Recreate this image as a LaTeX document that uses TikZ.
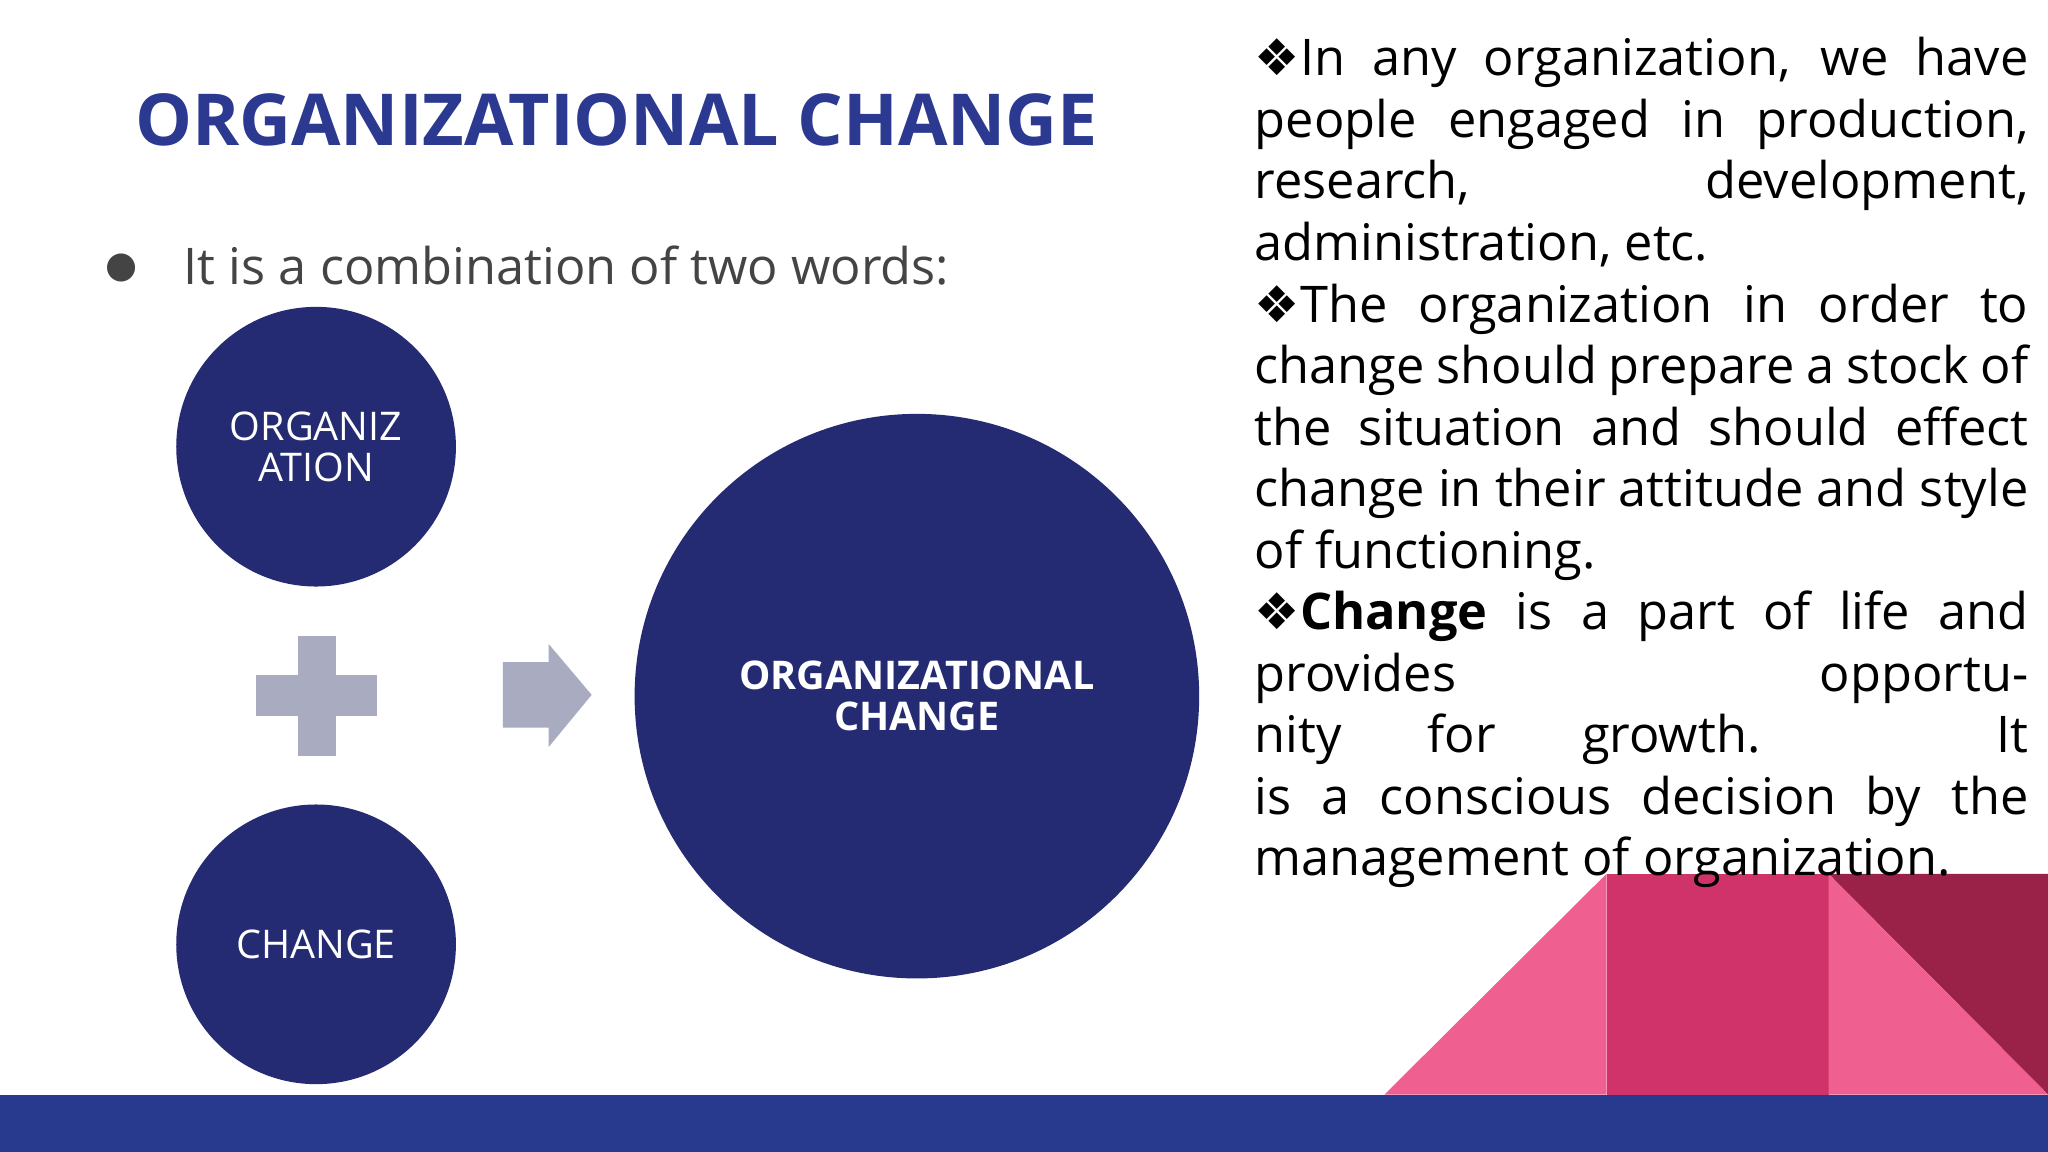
\documentclass[tikz,border=0pt]{standalone}
\usepackage{fontspec}
\setmainfont{Open Sans}
\newfontfamily\djv{DejaVu Sans}
\definecolor{titleblue}{HTML}{2B3990}
\definecolor{navy}{HTML}{242B72}
\definecolor{band}{HTML}{283A8E}
\definecolor{plusgray}{HTML}{A9ABC0}
\definecolor{lpink}{HTML}{EF5F8F}
\definecolor{mpink}{HTML}{D0336A}
\definecolor{dpink}{HTML}{9A2249}
\definecolor{txtgray}{HTML}{444444}
\begin{document}
\begin{tikzpicture}[x=0.01cm,y=-0.01cm,
  circ/.style={circle,fill=navy,inner sep=0pt,text=white,align=center,font=\fontsize{8.6}{9}\selectfont},
  gshape/.style={fill=plusgray,draw=none}]
\useasboundingbox (0,0) rectangle (1568,882);
\fill[white] (0,0) rectangle (1568,882);
% bottom decorations
\fill[band] (0,838) rectangle (1568,882);
\fill[lpink] (1060,838) -- (1230,669) -- (1230,838) -- cycle;
\fill[mpink] (1230,669) rectangle (1400,838);
\fill[dpink] (1400,669) -- (1568,669) -- (1568,838) -- cycle;
\fill[lpink] (1400,669) -- (1568,838) -- (1400,838) -- cycle;
% title
\node[font=\bfseries\fontsize{15.6}{18}\selectfont,text=titleblue] (title) at (472,92) {ORGANIZATIONAL CHANGE};
\node[font=\djv\fontsize{8}{9}\selectfont,text=txtgray] (bul) at (93,205) {●};
\node[anchor=west,font=\fontsize{11}{13}\selectfont,text=txtgray,inner sep=0pt] (sub) at (140,203) {It is a combination of two words:};
% circles
\node[circ,minimum size=2.14cm] (org) at (242,342) {ORGANIZ\\ATION};
\node[circ,minimum size=2.14cm] (chg) at (242,723) {CHANGE};
\node[circ,minimum size=4.32cm,font=\bfseries\fontsize{8.6}{9}\selectfont] (big) at (702,533) {ORGANIZATIONAL\\CHANGE};
% plus
\fill[gshape] (228,487) rectangle (257,579);
\fill[gshape] (196,517) rectangle (289,548);
% arrow
\fill[gshape] (385,507) -- (420,507) -- (420,493) -- (453,532) -- (420,572) -- (420,557) -- (385,557) -- cycle;
% right text
\node[anchor=north west,inner sep=0pt,text width=5.92cm,font=\fontsize{11}{13.4}\selectfont,align=justify] (body) at (960,28) {%
{\djv ❖}In any organization, we have\linebreak
people engaged in production,\linebreak
research,\hfill development,\linebreak
administration, etc.\\
{\djv ❖}The organization in order to\linebreak
change should prepare a stock of\linebreak
the situation and should effect\linebreak
change in their attitude and style\linebreak
of functioning.\\
{\djv ❖}\textbf{Change} is a part of life and\linebreak
provides opportunity for growth. It\linebreak
is a conscious decision by the\linebreak
management of organization.};
\end{tikzpicture}
\end{document}
